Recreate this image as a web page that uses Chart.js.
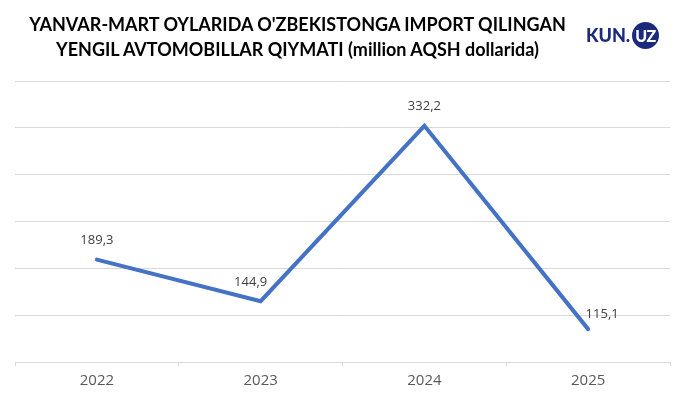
<!DOCTYPE html>
<html>
<head>
<meta charset="utf-8">
<script src="https://cdn.jsdelivr.net/npm/chart.js@4/dist/chart.umd.min.js"></script>
<style>
    html, body { margin: 0; padding: 0; background: #ffffff; }
    #wrap { position: relative; width: 685px; height: 399px; overflow: hidden; }
    #chart { position: absolute; left: 0; top: 0; }
    .title {
        position: absolute; left: 0; width: 595px; text-align: center;
        font-family: Lato, sans-serif; font-weight: 700; font-size: 18px;
        line-height: 24px; color: #000000; white-space: nowrap;
    }
    #logo { position: absolute; left: 586px; top: 22px; height: 27px; }
    #logo .kun {
        position: absolute; left: 0; top: 0; line-height: 27px;
        font-family: Lato, sans-serif; font-weight: 900; font-size: 18px; color: #1b2a7b;
    }
    #logo .uz {
        position: absolute; left: 46px; top: 0; width: 27px; height: 27px; border-radius: 50%;
        background: #1b2a7b; color: #ffffff; line-height: 27px; text-align: center;
        font-family: Lato, sans-serif; font-weight: 900; font-size: 16px; letter-spacing: -0.5px;
    }
</style>
</head>
<body>
<div id="wrap">
    <canvas id="chart" width="685" height="399"></canvas>
    <div class="title" style="top: 12px;">YANVAR-MART OYLARIDA O'ZBEKISTONGA IMPORT QILINGAN</div>
    <div class="title" style="top: 37px;">YENGIL AVTOMOBILLAR QIYMATI (million AQSH dollarida)</div>
    <div id="logo"><span class="kun">KUN.</span><span class="uz">UZ</span></div>
</div>
<script>
// Chart data
const years = ['2022', '2023', '2024', '2025'];
const importValues = [189.3, 144.9, 332.2, 115.1];

// Horizontal nudge of each value label (px)
const labelShift = [0, -10, 0, 14];

const fmt = v => v.toFixed(1).replace('.', ',');

// Draws the value labels above each point
const valueLabels = {
    id: 'valueLabels',
    afterDatasetsDraw(chart) {
        const ctx = chart.ctx;
        const meta = chart.getDatasetMeta(0);
        ctx.save();
        ctx.font = '13px "Open Sans", sans-serif';
        ctx.fillStyle = '#404040';
        ctx.textAlign = 'center';
        ctx.textBaseline = 'middle';
        meta.data.forEach((pt, i) => {
            const dy = i === 3 ? 15 : 19;
            ctx.fillText(fmt(importValues[i]), pt.x + labelShift[i], pt.y - dy);
        });
        ctx.restore();
    }
};

const ctx = document.getElementById('chart').getContext('2d');
new Chart(ctx, {
    type: 'line',
    data: {
        labels: years,
        datasets: [{
            data: importValues,
            borderColor: '#4472c4',
            borderWidth: 4,
            borderCapStyle: 'round',
            pointRadius: 0,
            tension: 0,
            fill: false
        }]
    },
    options: {
        responsive: false,
        animation: false,
        layout: { padding: { left: 15, right: 15, top: 81, bottom: 0 } },
        plugins: {
            legend: { display: false },
            tooltip: { enabled: false }
        },
        scales: {
            x: {
                offset: true,
                grid: {
                    offset: true,
                    drawOnChartArea: false,
                    tickLength: 4,
                    color: '#d9d9d9'
                },
                border: { color: '#d9d9d9' },
                ticks: {
                    color: '#595959',
                    font: { family: '"Open Sans", sans-serif', size: 15 },
                    padding: 6
                },
                afterFit(scale) { scale.height = 37; }
            },
            y: {
                min: 80,
                max: 380,
                ticks: { display: false, stepSize: 50 },
                grid: { color: '#d9d9d9', drawTicks: false },
                border: { display: false }
            }
        }
    },
    plugins: [valueLabels]
});
</script>
</body>
</html>
